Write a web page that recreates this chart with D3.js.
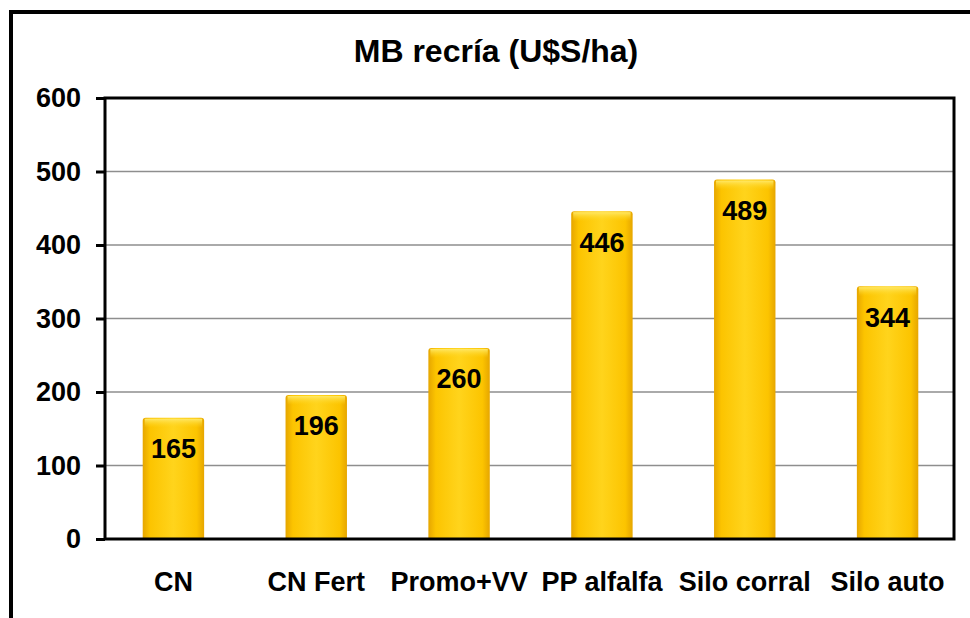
<!DOCTYPE html>
<html>
<head>
<meta charset="utf-8">
<script src="https://cdn.jsdelivr.net/npm/d3@7"></script>
<style>
  body { margin: 0; background: #fff; }
  text { font-family: Arial, "Liberation Sans", sans-serif; font-weight: bold; fill: #000; }
</style>
</head>
<body>
<div id="chart"></div>
<script>
// data
var categories = ["CN", "CN Fert", "Promo+VV", "PP alfalfa", "Silo corral", "Silo auto"];
var values = [165, 196, 260, 446, 489, 344];
var yTicks = [0, 100, 200, 300, 400, 500, 600];
var title = "MB recría (U$S/ha)";

var width = 970;
var height = 618;

var plotLeft = 105, plotRight = 954, plotTop = 98, plotBottom = 539;

var svg = d3.select("#chart")
    .append("svg")
    .attr("width", width)
    .attr("height", height);

// bar gradients
var defs = svg.append("defs");
var grad = defs.append("linearGradient").attr("id", "barGrad")
    .attr("x1", "0%").attr("x2", "100%").attr("y1", "0%").attr("y2", "0%");
grad.append("stop").attr("offset", "0%").attr("stop-color", "#e6a600");
grad.append("stop").attr("offset", "12%").attr("stop-color", "#fcc400");
grad.append("stop").attr("offset", "50%").attr("stop-color", "#ffd41c");
grad.append("stop").attr("offset", "88%").attr("stop-color", "#fcc400");
grad.append("stop").attr("offset", "100%").attr("stop-color", "#e6a600");

var topGrad = defs.append("linearGradient").attr("id", "topGrad")
    .attr("x1", "0%").attr("x2", "0%").attr("y1", "0%").attr("y2", "100%");
topGrad.append("stop").attr("offset", "0%").attr("stop-color", "#ffe866").attr("stop-opacity", 1);
topGrad.append("stop").attr("offset", "100%").attr("stop-color", "#ffd41c").attr("stop-opacity", 0);

// outer frame (cropped at right/bottom)
svg.append("rect")
    .attr("x", 11).attr("y", 12)
    .attr("width", 1000).attr("height", 700)
    .attr("fill", "none")
    .attr("stroke", "#000")
    .attr("stroke-width", 4);

// title
svg.append("text")
    .attr("x", 496).attr("y", 62)
    .attr("text-anchor", "middle")
    .attr("font-size", 32)
    .text(title);

// scales
var x = d3.scaleBand()
    .domain(categories)
    .range([102, 959])
    .paddingInner(0.57)
    .paddingOuter(0.285);

var y = d3.scaleLinear()
    .domain([0, 600])
    .range([plotBottom, plotTop]);

// gridlines
svg.append("g")
    .selectAll("line")
    .data(yTicks.filter(function(d) { return d > 0 && d < 600; }))
    .enter()
    .append("line")
    .attr("x1", plotLeft).attr("x2", plotRight)
    .attr("y1", function(d) { return y(d); })
    .attr("y2", function(d) { return y(d); })
    .attr("stroke", "#8e8e8e")
    .attr("stroke-width", 1.5);

// bars
var bars = svg.append("g").selectAll("g").data(values).enter().append("g");

bars.append("path")
    .attr("d", function(d, i) {
        var x0 = x(categories[i]), w = x.bandwidth();
        var y0 = y(d), y1 = y(0), r = 3;
        return "M" + x0 + "," + y1 + "V" + (y0 + r) +
            "Q" + x0 + "," + y0 + " " + (x0 + r) + "," + y0 +
            "H" + (x0 + w - r) +
            "Q" + (x0 + w) + "," + y0 + " " + (x0 + w) + "," + (y0 + r) +
            "V" + y1 + "Z";
    })
    .attr("fill", "url(#barGrad)");

bars.append("rect")
    .attr("x", function(d, i) { return x(categories[i]) + 2; })
    .attr("y", function(d) { return y(d) + 1; })
    .attr("width", x.bandwidth() - 4)
    .attr("height", 9)
    .attr("fill", "url(#topGrad)");

bars.append("text")
    .attr("x", function(d, i) { return x(categories[i]) + x.bandwidth() / 2; })
    .attr("y", function(d) { return y(d) + 31; })
    .attr("dy", ".35em")
    .attr("text-anchor", "middle")
    .attr("font-size", 27)
    .text(function(d) { return d; });

// axes
var yAxis = d3.axisLeft(y).tickValues(yTicks).tickSize(9).tickPadding(15);
var yG = svg.append("g")
    .attr("transform", "translate(" + plotLeft + ",0)")
    .call(yAxis);
yG.select(".domain").remove();
yG.selectAll(".tick line").attr("stroke", "#000").attr("stroke-width", 3);
yG.selectAll(".tick text")
    .attr("font-size", 27)
    .attr("font-family", null)
    .style("font-family", "Arial, 'Liberation Sans', sans-serif")
    .style("font-weight", "bold");

var xAxis = d3.axisBottom(x).tickSize(0).tickPadding(33);
var xG = svg.append("g")
    .attr("transform", "translate(0," + plotBottom + ")")
    .call(xAxis);
xG.select(".domain").remove();
xG.selectAll(".tick text")
    .attr("font-size", 27)
    .attr("font-family", null)
    .style("font-family", "Arial, 'Liberation Sans', sans-serif")
    .style("font-weight", "bold");

// plot frame
svg.append("rect")
    .attr("x", plotLeft).attr("y", plotTop)
    .attr("width", plotRight - plotLeft)
    .attr("height", plotBottom - plotTop)
    .attr("fill", "none")
    .attr("stroke", "#000")
    .attr("stroke-width", 3);
</script>
</body>
</html>
